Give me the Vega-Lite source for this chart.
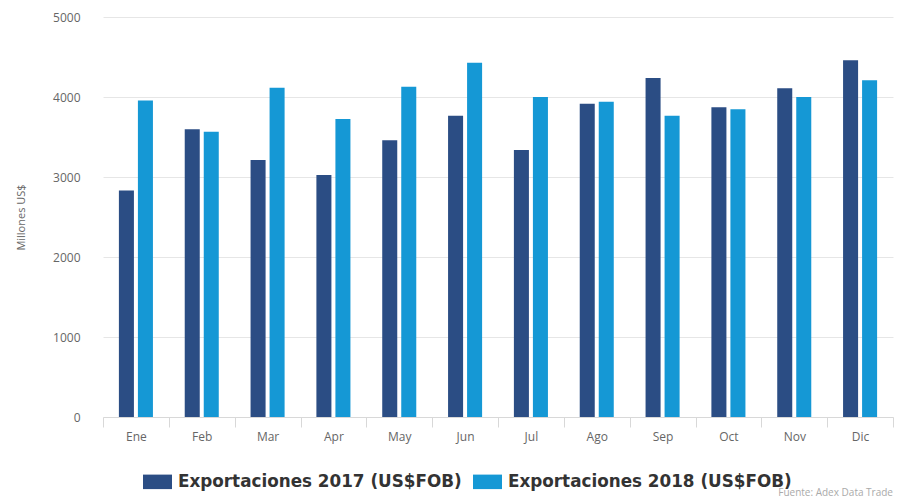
{
  "$schema": "https://vega.github.io/schema/vega-lite/v6.json",
  "autosize": "none",
  "width": 790,
  "height": 400,
  "padding": {"left": 103, "top": 17, "right": 4, "bottom": 84},
  "background": "white",
  "data": {
    "values": [
      {"mes": "Ene", "serie": "Exportaciones 2017 (US$FOB)", "valor": 2830},
      {"mes": "Ene", "serie": "Exportaciones 2018 (US$FOB)", "valor": 3955},
      {"mes": "Feb", "serie": "Exportaciones 2017 (US$FOB)", "valor": 3596},
      {"mes": "Feb", "serie": "Exportaciones 2018 (US$FOB)", "valor": 3566},
      {"mes": "Mar", "serie": "Exportaciones 2017 (US$FOB)", "valor": 3212},
      {"mes": "Mar", "serie": "Exportaciones 2018 (US$FOB)", "valor": 4116},
      {"mes": "Apr", "serie": "Exportaciones 2017 (US$FOB)", "valor": 3025},
      {"mes": "Apr", "serie": "Exportaciones 2018 (US$FOB)", "valor": 3725},
      {"mes": "May", "serie": "Exportaciones 2017 (US$FOB)", "valor": 3458},
      {"mes": "May", "serie": "Exportaciones 2018 (US$FOB)", "valor": 4129},
      {"mes": "Jun", "serie": "Exportaciones 2017 (US$FOB)", "valor": 3766},
      {"mes": "Jun", "serie": "Exportaciones 2018 (US$FOB)", "valor": 4429},
      {"mes": "Jul", "serie": "Exportaciones 2017 (US$FOB)", "valor": 3338},
      {"mes": "Jul", "serie": "Exportaciones 2018 (US$FOB)", "valor": 4000},
      {"mes": "Ago", "serie": "Exportaciones 2017 (US$FOB)", "valor": 3916},
      {"mes": "Ago", "serie": "Exportaciones 2018 (US$FOB)", "valor": 3941},
      {"mes": "Sep", "serie": "Exportaciones 2017 (US$FOB)", "valor": 4238},
      {"mes": "Sep", "serie": "Exportaciones 2018 (US$FOB)", "valor": 3766},
      {"mes": "Oct", "serie": "Exportaciones 2017 (US$FOB)", "valor": 3871},
      {"mes": "Oct", "serie": "Exportaciones 2018 (US$FOB)", "valor": 3846},
      {"mes": "Nov", "serie": "Exportaciones 2017 (US$FOB)", "valor": 4108},
      {"mes": "Nov", "serie": "Exportaciones 2018 (US$FOB)", "valor": 4000},
      {"mes": "Dic", "serie": "Exportaciones 2017 (US$FOB)", "valor": 4458},
      {"mes": "Dic", "serie": "Exportaciones 2018 (US$FOB)", "valor": 4208}
    ]
  },
  "title": {
    "text": "Fuente: Adex Data Trade",
    "orient": "bottom",
    "anchor": "end",
    "frame": "group",
    "fontSize": 10,
    "fontWeight": "normal",
    "font": "Open Sans",
    "color": "#aaaaaa",
    "offset": 0,
    "dy": -3
  },
  "mark": {"type": "bar"},
  "encoding": {
    "x": {
      "field": "mes",
      "type": "nominal",
      "sort": null,
      "scale": {"paddingInner": 0, "paddingOuter": 0},
      "axis": {
        "title": null,
        "labelAngle": 0,
        "tickBand": "extent",
        "domainColor": "#d8d8d8",
        "tickColor": "#d8d8d8",
        "tickSize": 10,
        "labelColor": "#666666",
        "labelFont": "Open Sans",
        "labelFontSize": 12,
        "labelPadding": 4,
        "grid": false
      }
    },
    "xOffset": {
      "field": "serie",
      "type": "nominal",
      "scale": {"paddingInner": 0.21, "paddingOuter": 0.836}
    },
    "y": {
      "field": "valor",
      "type": "quantitative",
      "scale": {"domain": [0, 5000], "nice": false},
      "axis": {
        "title": "Millones US$",
        "titleFont": "Open Sans",
        "titleFontWeight": "normal",
        "titleFontSize": 11,
        "titleColor": "#666666",
        "titlePadding": 26,
        "values": [0, 1000, 2000, 3000, 4000, 5000],
        "format": "d",
        "domain": false,
        "ticks": false,
        "labelPadding": 23,
        "labelColor": "#666666",
        "labelFont": "Open Sans",
        "labelFontSize": 12,
        "gridColor": "#e6e6e6"
      }
    },
    "color": {
      "field": "serie",
      "type": "nominal",
      "scale": {"range": ["#2b4d84", "#1598d5"]},
      "legend": {
        "title": null,
        "orient": "none",
        "direction": "horizontal",
        "legendX": 40,
        "legendY": 450,
        "symbolType": "M-1,-0.5H1V0.5H-1Z",
        "symbolSize": 841,
        "symbolStrokeWidth": 0,
        "labelFont": "DejaVu Sans",
        "labelFontWeight": "bold",
        "labelFontSize": 16.8,
        "labelColor": "#333333",
        "labelOffset": 6,
        "columnPadding": 11,
        "labelLimit": 400,
        "padding": 0
      }
    }
  },
  "config": {
    "view": {"stroke": null}
  }
}
